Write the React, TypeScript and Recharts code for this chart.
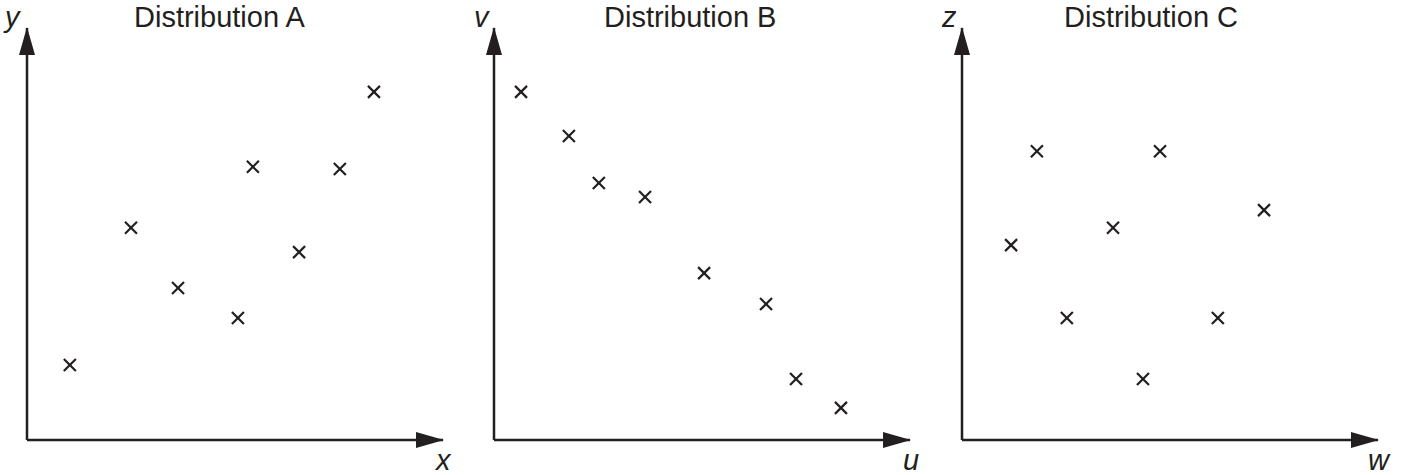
import { ScatterChart, Scatter, XAxis, YAxis } from 'recharts';

const ink = '#231f20';

// point positions on a 0-10 scale for both axes
const pointsA = [
  { x: 1.03, y: 1.82 },
  { x: 2.5, y: 5.15 },
  { x: 3.63, y: 3.69 },
  { x: 5.07, y: 2.96 },
  { x: 5.43, y: 6.63 },
  { x: 6.54, y: 4.56 },
  { x: 7.52, y: 6.58 },
  { x: 8.34, y: 8.45 },
];

const pointsB = [
  { x: 0.65, y: 8.45 },
  { x: 1.8, y: 7.38 },
  { x: 2.52, y: 6.24 },
  { x: 3.63, y: 5.9 },
  { x: 5.05, y: 4.05 },
  { x: 6.54, y: 3.3 },
  { x: 7.26, y: 1.48 },
  { x: 8.34, y: 0.78 },
];

const pointsC = [
  { x: 1.18, y: 4.73 },
  { x: 1.8, y: 7.01 },
  { x: 2.52, y: 2.96 },
  { x: 3.63, y: 5.15 },
  { x: 4.35, y: 1.48 },
  { x: 4.76, y: 7.01 },
  { x: 6.15, y: 2.96 },
  { x: 7.26, y: 5.58 },
];

const titles = ['Distribution A', 'Distribution B', 'Distribution C'];
const yNames = ['y', 'v', 'z'];
const xNames = ['x', 'u', 'w'];

const Cross = (props: any) => {
  const { cx, cy } = props;
  if (cx == null || cy == null) return null;
  const h = 6;
  return (
    <g stroke={ink} strokeWidth={2.2}>
      <line x1={cx - h} y1={cy - h} x2={cx + h} y2={cy + h} />
      <line x1={cx - h} y1={cy + h} x2={cx + h} y2={cy - h} />
    </g>
  );
};

const Panel = ({ data }: { data: { x: number; y: number }[] }) => (
  <ScatterChart width={470} height={475} margin={{ top: 28, right: 27, bottom: 34, left: 26 }}>
    <XAxis
      type="number"
      dataKey="x"
      domain={[0, 10]}
      height={1}
      tick={false}
      tickLine={false}
      axisLine={{ stroke: ink, strokeWidth: 2.5, markerEnd: 'url(#arrow)' }}
    />
    <YAxis
      type="number"
      dataKey="y"
      domain={[0, 10]}
      width={1}
      tick={false}
      tickLine={false}
      axisLine={{ stroke: ink, strokeWidth: 2.5, markerStart: 'url(#arrow)' }}
    />
    <Scatter data={data} shape={<Cross />} isAnimationActive={false} />
  </ScatterChart>
);

const panelLeft = [0, 467, 935];
const titleLeft = [134, 604, 1064];
const yNameLeft = [5, 474, 942];
const xNameLeft = [436, 903, 1368];
const sets = [pointsA, pointsB, pointsC];

export default function App() {
  return (
    <div style={{ position: 'absolute', left: 0, top: 0, width: 1408, height: 475, background: '#fff' }}>
      <svg width={0} height={0} style={{ position: 'absolute' }}>
        <defs>
          <marker
            id="arrow"
            markerUnits="userSpaceOnUse"
            markerWidth={28}
            markerHeight={16}
            refX={27}
            refY={8}
            orient="auto-start-reverse"
            viewBox="0 0 28 16"
          >
            <path d="M0,0 L28,8 L0,16 Z" fill={ink} />
          </marker>
        </defs>
      </svg>
      {sets.map((d, i) => (
        <div key={i} style={{ position: 'absolute', left: panelLeft[i], top: 0 }}>
          <Panel data={d} />
        </div>
      ))}
      <svg
        width={1408}
        height={475}
        style={{ position: 'absolute', left: 0, top: 0, pointerEvents: 'none' }}
        fontFamily="'Liberation Sans', Arial, sans-serif"
        fill={ink}
      >
        {titles.map((t, i) => (
          <text key={t} x={titleLeft[i]} y={27} fontSize={29}>
            {t}
          </text>
        ))}
        {yNames.map((t, i) => (
          <text key={t} x={yNameLeft[i]} y={27} fontSize={29} fontStyle="italic">
            {t}
          </text>
        ))}
        {xNames.map((t, i) => (
          <text key={t} x={xNameLeft[i]} y={470} fontSize={29} fontStyle="italic">
            {t}
          </text>
        ))}
      </svg>
    </div>
  );
}
